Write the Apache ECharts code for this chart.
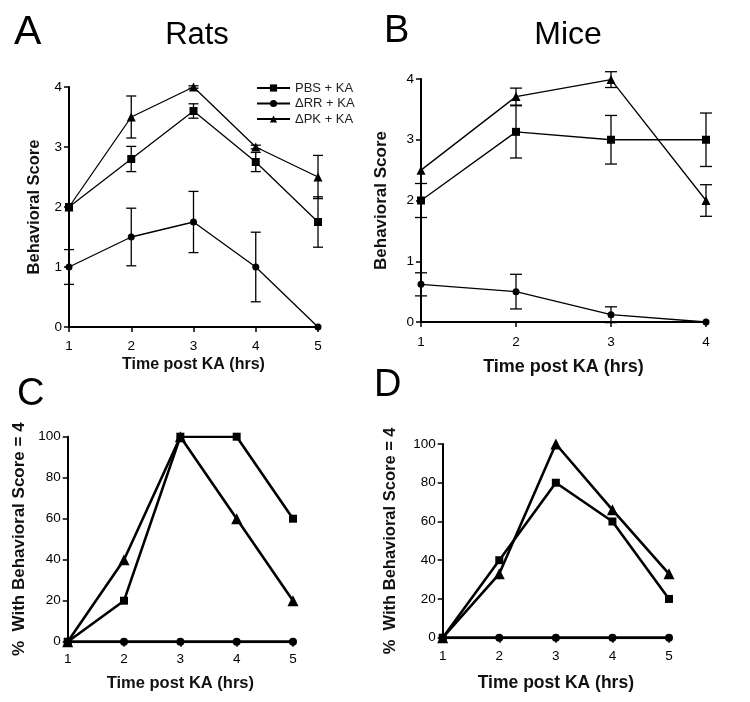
<!DOCTYPE html>
<html>
<head>
<meta charset="utf-8">
<script src="https://cdn.jsdelivr.net/npm/echarts@6/dist/echarts.min.js"></script>
<style>
html,body{margin:0;padding:0;background:#fff;}
#chart{width:750px;height:702px;}
</style>
</head>
<body>
<div id="chart"></div>
<script>
// ---------- DATA ----------
const seriesNames = ['PBS + KA', 'ΔRR + KA', 'ΔPK + KA'];

// Panel A: Rats, behavioral score
const hoursA = [1, 2, 3, 4, 5];
const ratsPBS = [2, 2.8, 3.6, 2.75, 1.75];
const ratsPBSErr = [0, 0.21, 0.12, 0.16, 0.42];
const ratsRR = [1, 1.5, 1.75, 1.0, 0];
const ratsRRErr = [0.29, 0.48, 0.51, 0.58, 0];
const ratsPK = [2, 3.5, 4, 3, 2.5];
const ratsPKErr = [0, 0.35, 0.02, 0.03, 0.36];

// Panel B: Mice, behavioral score
const hoursB = [1, 2, 3, 4];
const micePBS = [2, 3.13, 3.0, 3.0];
const micePBSErr = [0.28, 0.43, 0.4, 0.44];
const miceRR = [0.62, 0.5, 0.12, 0];
const miceRRErr = [0.19, 0.285, 0.13, 0];
const micePK = [2.5, 3.71, 3.99, 2.0];
const micePKErr = [0, 0.14, 0.13, 0.26];

// Panel C: Rats, % with score = 4
const hoursC = [1, 2, 3, 4, 5];
const ratsPctPBS = [0, 20, 100, 100, 60];
const ratsPctRR = [0, 0, 0, 0, 0];
const ratsPctPK = [0, 40, 100, 60, 20];

// Panel D: Mice, % with score = 4
const hoursD = [1, 2, 3, 4, 5];
const micePctPBS = [0, 40, 80, 60, 20];
const micePctRR = [0, 0, 0, 0, 0];
const micePctPK = [0, 33, 100, 66, 33];

// ---------- CHART ----------
const FONT = "'Liberation Sans', Arial, sans-serif";
const symbols = ['rect', 'circle', 'triangle'];

function pairs(xs, ys) { return xs.map((x, i) => [x, ys[i]]); }
function errData(xs, ys, es) {
  const out = [];
  xs.forEach((x, i) => { if (es[i] > 0) out.push([x, ys[i], es[i]]); });
  return out;
}

function makeErr(idx, data, cap) {
  return {
    type: 'custom',
    xAxisIndex: idx, yAxisIndex: idx,
    coordinateSystem: 'cartesian2d',
    z: 2, silent: true,
    encode: { x: 0, y: 1 },
    data: data,
    renderItem: function (params, api) {
      const x = api.value(0), y = api.value(1), e = api.value(2);
      const hi = api.coord([x, y + e]);
      const lo = api.coord([x, y - e]);
      const st = { stroke: '#000', lineWidth: 1.3 };
      return {
        type: 'group',
        children: [
          { type: 'line', shape: { x1: hi[0], y1: hi[1], x2: lo[0], y2: lo[1] }, style: st },
          { type: 'line', shape: { x1: hi[0] - cap, y1: hi[1], x2: hi[0] + cap, y2: hi[1] }, style: st },
          { type: 'line', shape: { x1: lo[0] - cap, y1: lo[1], x2: lo[0] + cap, y2: lo[1] }, style: st }
        ]
      };
    }
  };
}

function makeLine(idx, name, k, data, lw, sizes) {
  return {
    type: 'line', name: name,
    xAxisIndex: idx, yAxisIndex: idx,
    data: data,
    symbol: symbols[k],
    symbolSize: sizes[k],
    showAllSymbol: true,
    z: 3,
    lineStyle: { color: '#000', width: lw },
    itemStyle: { color: '#000', borderWidth: 0 },
    emphasis: { disabled: true }
  };
}

function xAx(idx, max, gap, nameSize, margin) {
  return {
    type: 'value', gridIndex: idx, min: 1, max: max, interval: 1,
    name: 'Time post KA (hrs)', nameLocation: 'middle', nameGap: gap,
    nameTextStyle: { fontFamily: FONT, fontWeight: 'bold', fontSize: nameSize, color: '#111' },
    axisLine: { show: true, onZero: false, lineStyle: { color: '#000', width: 2 } },
    axisTick: { show: true, length: 5, lineStyle: { color: '#000', width: 1.5 } },
    axisLabel: { fontFamily: FONT, fontSize: 13.5, color: '#000', margin: margin },
    splitLine: { show: false }
  };
}
function yAx(idx, max, interval, name, gap, nameSize, labelSize) {
  return {
    type: 'value', gridIndex: idx, min: 0, max: max, interval: interval,
    name: name, nameLocation: 'middle', nameGap: gap,
    nameTextStyle: { fontFamily: FONT, fontWeight: 'bold', fontSize: nameSize, color: '#111' },
    axisLine: { show: true, onZero: false, lineStyle: { color: '#000', width: 2 } },
    axisTick: { show: true, length: 5, lineStyle: { color: '#000', width: 1.5 } },
    axisLabel: { fontFamily: FONT, fontSize: labelSize, color: '#000', margin: 7 },
    splitLine: { show: false }
  };
}

const smallSizes = [8, 7, 9];
const bigSizes = [8, 8, 11];

const series = [
  makeLine(0, seriesNames[0], 0, pairs(hoursA, ratsPBS), 1.3, smallSizes),
  makeLine(0, seriesNames[1], 1, pairs(hoursA, ratsRR), 1.3, smallSizes),
  makeLine(0, seriesNames[2], 2, pairs(hoursA, ratsPK), 1.3, smallSizes),
  makeErr(0, errData(hoursA, ratsPBS, ratsPBSErr), 5),
  makeErr(0, errData(hoursA, ratsRR, ratsRRErr), 5),
  makeErr(0, errData(hoursA, ratsPK, ratsPKErr), 5),

  makeLine(1, seriesNames[0], 0, pairs(hoursB, micePBS), 1.3, smallSizes),
  makeLine(1, seriesNames[1], 1, pairs(hoursB, miceRR), 1.3, smallSizes),
  makeLine(1, seriesNames[2], 2, pairs(hoursB, micePK), 1.3, smallSizes),
  makeErr(1, errData(hoursB, micePBS, micePBSErr), 6),
  makeErr(1, errData(hoursB, miceRR, miceRRErr), 6),
  makeErr(1, errData(hoursB, micePK, micePKErr), 6),

  makeLine(2, seriesNames[0], 0, pairs(hoursC, ratsPctPBS), 2.6, bigSizes),
  makeLine(2, seriesNames[1], 1, pairs(hoursC, ratsPctRR), 3, bigSizes),
  makeLine(2, seriesNames[2], 2, pairs(hoursC, ratsPctPK), 2.6, bigSizes),

  makeLine(3, seriesNames[0], 0, pairs(hoursD, micePctPBS), 2.6, bigSizes),
  makeLine(3, seriesNames[1], 1, pairs(hoursD, micePctRR), 3, bigSizes),
  makeLine(3, seriesNames[2], 2, pairs(hoursD, micePctPK), 2.6, bigSizes)
];

function label(text, x, y, size, align) {
  return {
    type: 'text', x: x, y: y, silent: true,
    style: { text: text, fontFamily: FONT, fontSize: size, fill: '#000', align: align || 'left', verticalAlign: 'middle' }
  };
}

const option = {
  animation: false,
  backgroundColor: '#fff',
  grid: [
    { left: 69, top: 87, width: 249, height: 240 },
    { left: 421, top: 79, width: 285, height: 243 },
    { left: 67.7, top: 436.7, width: 225.3, height: 205 },
    { left: 442.7, top: 444, width: 226.3, height: 193.7 }
  ],
  xAxis: [
    xAx(0, 5, 30, 16, 12),
    xAx(1, 4, 36, 18, 13),
    xAx(2, 5, 33, 16.5, 11),
    xAx(3, 5, 36, 17.5, 12)
  ],
  yAxis: [
    yAx(0, 4, 1, 'Behavioral Score', 26, 16.5, 13.5),
    yAx(1, 4, 1, 'Behavioral Score', 31, 17, 13.5),
    yAx(2, 100, 20, '%  With Behavioral Score = 4', 40, 17, 13.5),
    yAx(3, 100, 20, '%  With Behavioral Score = 4', 44, 16.5, 13.5)
  ],
  legend: {
    data: seriesNames,
    orient: 'vertical',
    left: 251, top: 76.5,
    itemWidth: 33, itemHeight: 9, itemGap: 2.5,
    textStyle: { fontFamily: FONT, fontSize: 13, color: '#222', lineHeight: 13 },
    selectedMode: false
  },
  graphic: [
    label('A', 14, 33, 41),
    label('Rats', 197, 35, 31, 'center'),
    label('B', 384, 32, 38),
    label('Mice', 568, 35, 32, 'center'),
    label('C', 17, 395, 38),
    label('D', 374, 386, 38)
  ],
  series: series
};

const chart = echarts.init(document.getElementById('chart'), null, { renderer: 'canvas' });
chart.setOption(option);
</script>
</body>
</html>
